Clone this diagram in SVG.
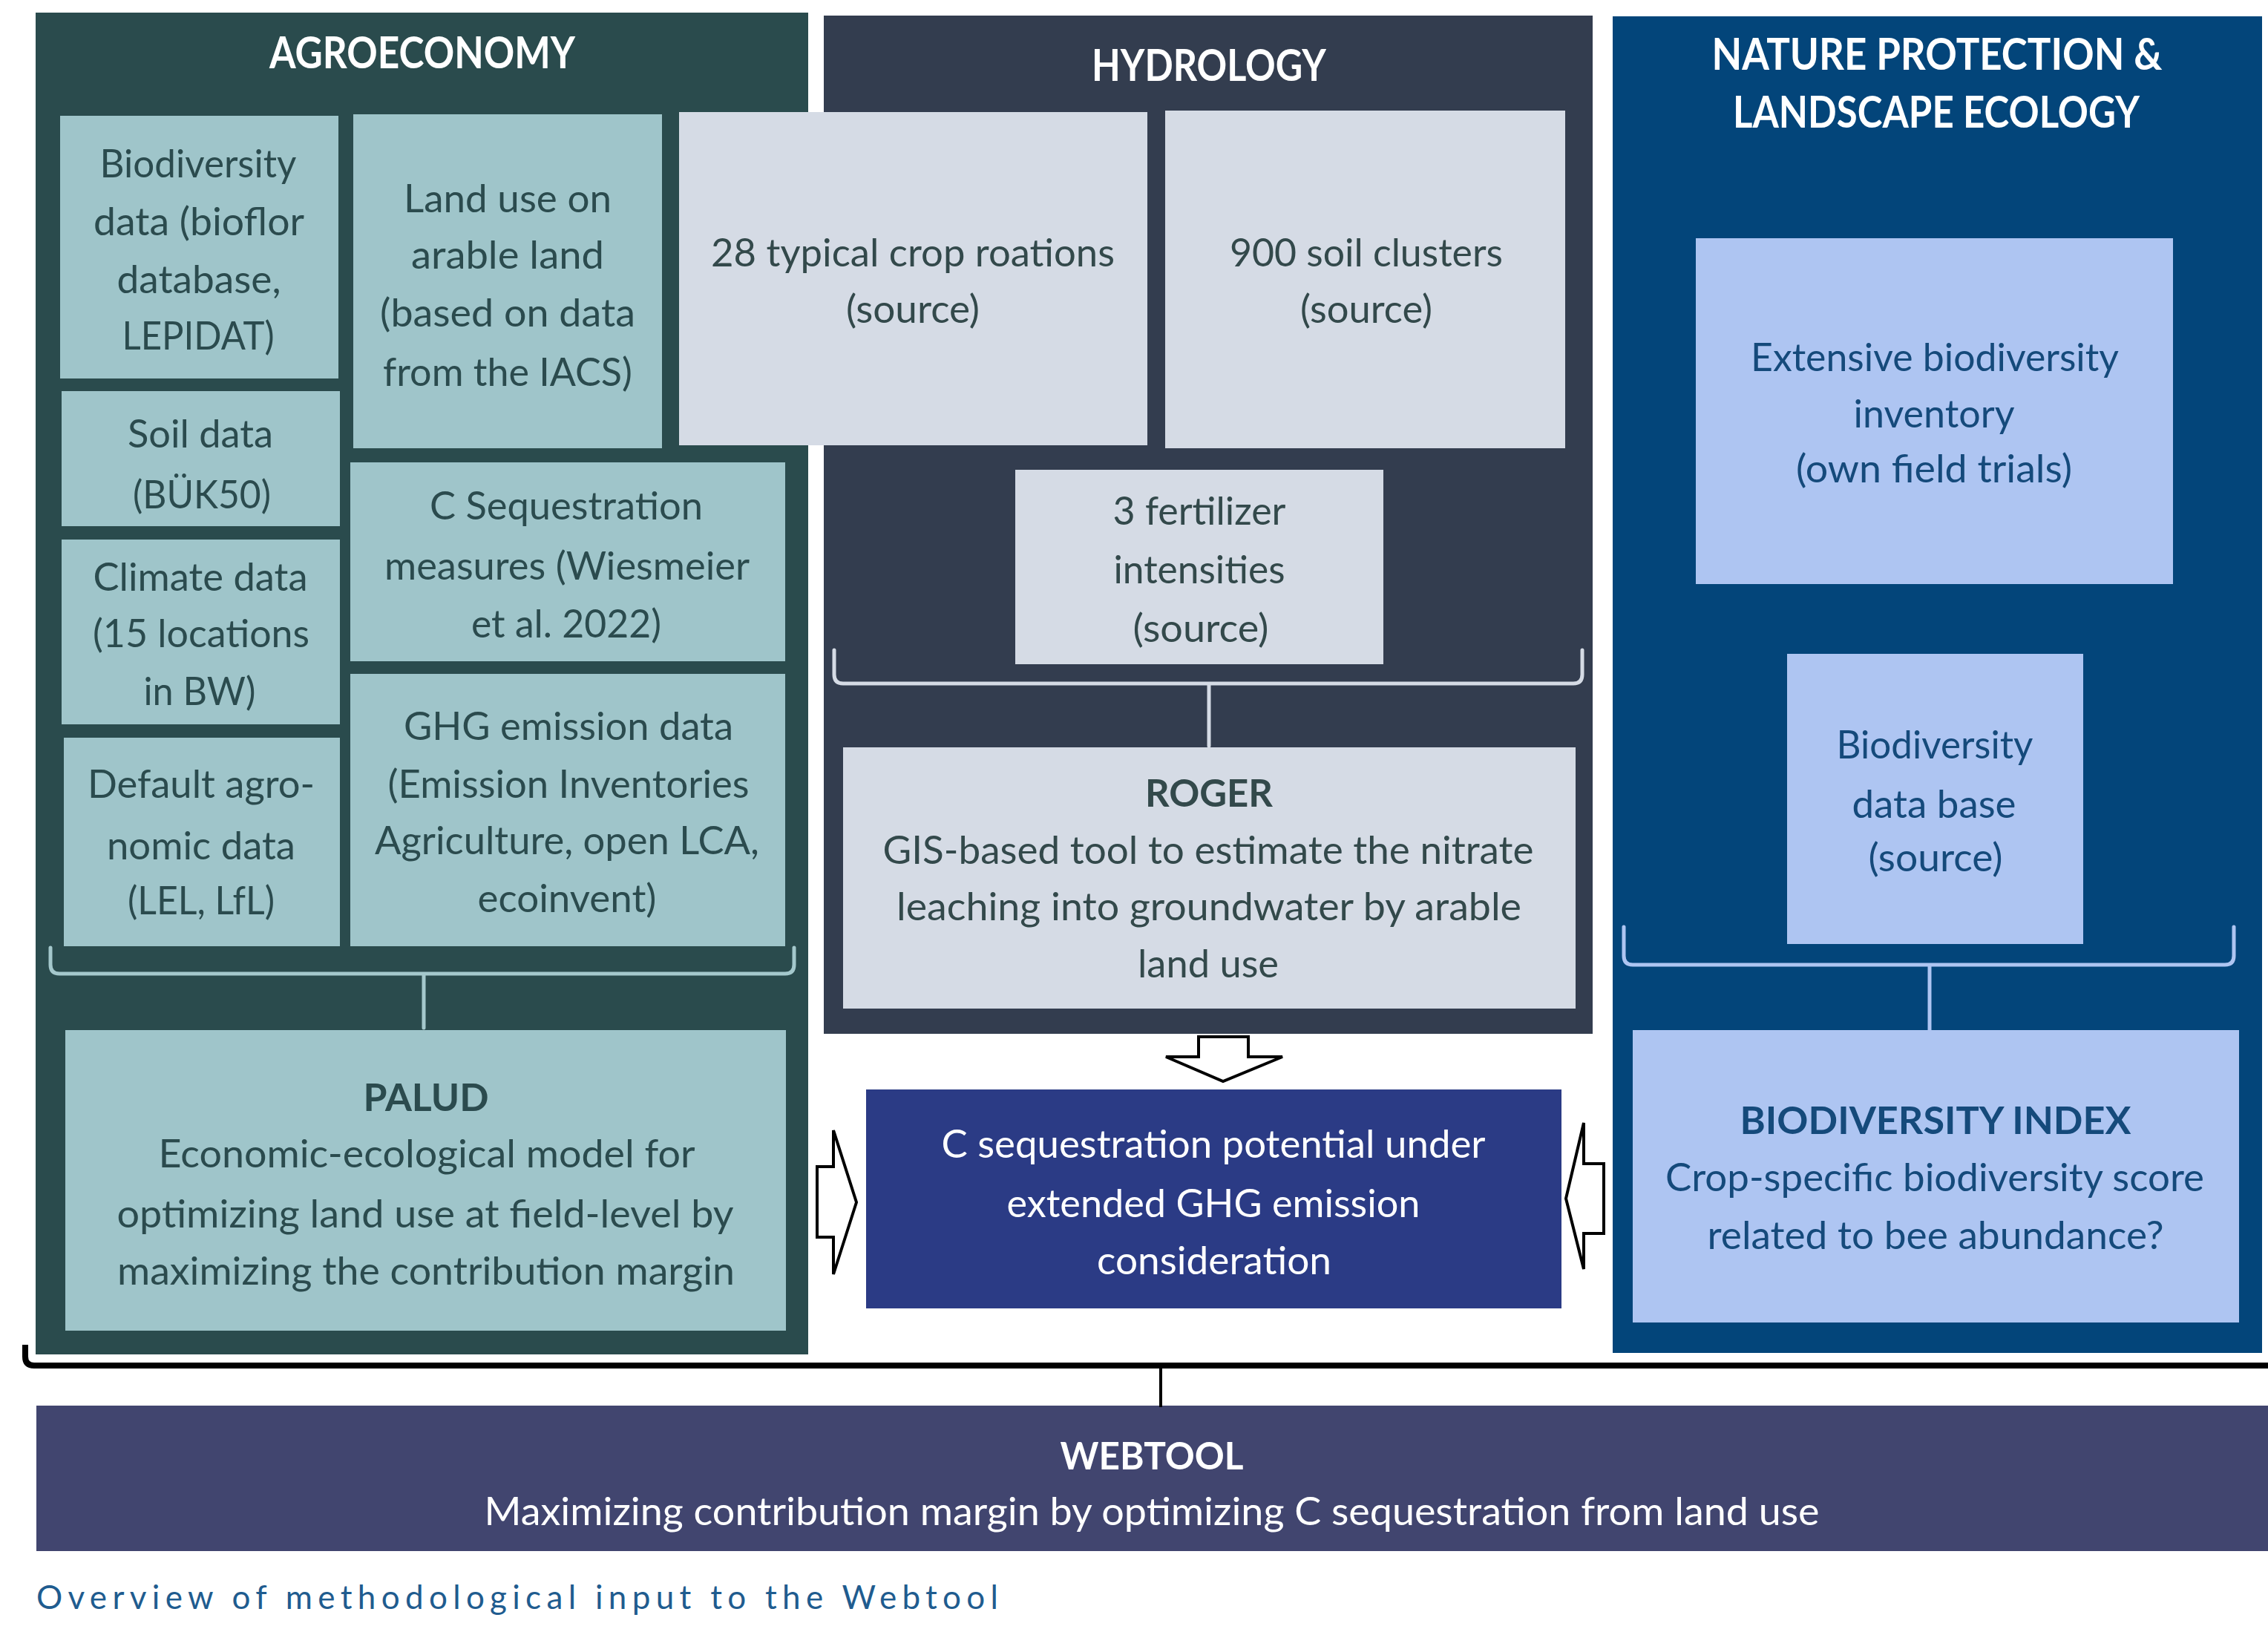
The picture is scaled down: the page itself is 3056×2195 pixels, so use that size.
<svg xmlns="http://www.w3.org/2000/svg" width="3056" height="2195" viewBox="0 0 3056 2195">
  <style>
    text { font-family: Lato, "Open Sans", "Liberation Sans", sans-serif; text-anchor: middle; }
    .body { font-size: 52px; }
    .head { font-size: 60px; font-weight: bold; fill: #ffffff; }
    .bold { font-weight: bold; }
    .agro-box { fill: #9fc5ca; }
    .hyd-box { fill: #d5dbe5; }
    .nat-box { fill: #aec5f2; }
    .agro-txt { fill: #2b4b4e; }
    .hyd-txt { fill: #33494b; }
    .nat-txt { fill: #154a7b; }
    .white { fill: #ffffff; }
    .brace { fill: none; stroke-width: 5; stroke-linecap: round; stroke-linejoin: round; }
    .arrow { fill: #ffffff; stroke: #000000; stroke-width: 4; stroke-linejoin: miter; }
  </style>

  <rect x="0" y="0" width="3056" height="2195" fill="#ffffff"/>

  <!-- Panels -->
  <g id="panel-agroeconomy">
    <rect x="48" y="17" width="1041" height="1808" fill="#2a4b4d"/>
    <text class="head" x="569" y="92" textLength="412" lengthAdjust="spacingAndGlyphs">AGROECONOMY</text>
  </g>
  <g id="panel-hydrology">
    <rect x="1110" y="21" width="1036" height="1372" fill="#333d4f"/>
    <text class="head" x="1629" y="109" textLength="316" lengthAdjust="spacingAndGlyphs">HYDROLOGY</text>
  </g>
  <g id="panel-nature">
    <rect x="2173" y="22" width="875" height="1801" fill="#03457a"/>
    <text class="head" x="2610" y="94" textLength="607" lengthAdjust="spacingAndGlyphs">NATURE PROTECTION &amp;</text>
    <text class="head" x="2609" y="172" textLength="548" lengthAdjust="spacingAndGlyphs">LANDSCAPE ECOLOGY</text>
  </g>

  <!-- Agroeconomy inputs -->
  <g id="biodiversity-data">
    <rect class="agro-box" x="81" y="156" width="375" height="354"/>
    <text class="body agro-txt" x="267" y="239" textLength="265" lengthAdjust="spacingAndGlyphs">Biodiversity</text>
    <text class="body agro-txt" x="268" y="317" textLength="284" lengthAdjust="spacingAndGlyphs">data (bioflor</text>
    <text class="body agro-txt" x="268" y="395" textLength="221" lengthAdjust="spacingAndGlyphs">database,</text>
    <text class="body agro-txt" x="267" y="471" textLength="205" lengthAdjust="spacingAndGlyphs">LEPIDAT)</text>
  </g>
  <g id="land-use">
    <rect class="agro-box" x="476" y="154" width="416" height="450"/>
    <text class="body agro-txt" x="684" y="286" textLength="280" lengthAdjust="spacingAndGlyphs">Land use on</text>
    <text class="body agro-txt" x="684" y="362" textLength="260" lengthAdjust="spacingAndGlyphs">arable land</text>
    <text class="body agro-txt" x="684" y="440" textLength="344" lengthAdjust="spacingAndGlyphs">(based on data</text>
    <text class="body agro-txt" x="684" y="520" textLength="336" lengthAdjust="spacingAndGlyphs">from the IACS)</text>
  </g>
  <g id="soil-data">
    <rect class="agro-box" x="83" y="527" width="375" height="182"/>
    <text class="body agro-txt" x="270" y="603" textLength="196" lengthAdjust="spacingAndGlyphs">Soil data</text>
    <text class="body agro-txt" x="272" y="685" textLength="186" lengthAdjust="spacingAndGlyphs">(BÜK50)</text>
  </g>
  <g id="climate-data">
    <rect class="agro-box" x="83" y="727" width="375" height="249"/>
    <text class="body agro-txt" x="270" y="796" textLength="289" lengthAdjust="spacingAndGlyphs">Climate data</text>
    <text class="body agro-txt" x="271" y="872" textLength="292" lengthAdjust="spacingAndGlyphs">(15 locations</text>
    <text class="body agro-txt" x="269" y="950" textLength="151" lengthAdjust="spacingAndGlyphs">in BW)</text>
  </g>
  <g id="default-agronomic-data">
    <rect class="agro-box" x="86" y="994" width="372" height="281"/>
    <text class="body agro-txt" x="271" y="1075" textLength="306" lengthAdjust="spacingAndGlyphs">Default agro-</text>
    <text class="body agro-txt" x="271" y="1158" textLength="254" lengthAdjust="spacingAndGlyphs">nomic data</text>
    <text class="body agro-txt" x="271" y="1232" textLength="198" lengthAdjust="spacingAndGlyphs">(LEL, LfL)</text>
  </g>
  <g id="c-sequestration-measures">
    <rect class="agro-box" x="472" y="623" width="586" height="268"/>
    <text class="body agro-txt" x="763" y="700" textLength="368" lengthAdjust="spacingAndGlyphs">C Sequestration</text>
    <text class="body agro-txt" x="764" y="781" textLength="492" lengthAdjust="spacingAndGlyphs">measures (Wiesmeier</text>
    <text class="body agro-txt" x="763" y="859" textLength="256" lengthAdjust="spacingAndGlyphs">et al. 2022)</text>
  </g>
  <g id="ghg-emission-data">
    <rect class="agro-box" x="472" y="908" width="586" height="367"/>
    <text class="body agro-txt" x="766" y="997" textLength="444" lengthAdjust="spacingAndGlyphs">GHG emission data</text>
    <text class="body agro-txt" x="766" y="1075" textLength="487" lengthAdjust="spacingAndGlyphs">(Emission Inventories</text>
    <text class="body agro-txt" x="764" y="1151" textLength="518" lengthAdjust="spacingAndGlyphs">Agriculture, open LCA,</text>
    <text class="body agro-txt" x="764" y="1229" textLength="241" lengthAdjust="spacingAndGlyphs">ecoinvent)</text>
  </g>
  <g id="palud">
    <rect class="agro-box" x="88" y="1388" width="971" height="405"/>
    <text class="body bold agro-txt" x="574" y="1497" textLength="169" lengthAdjust="spacingAndGlyphs">PALUD</text>
    <text class="body agro-txt" x="575" y="1573" textLength="723" lengthAdjust="spacingAndGlyphs">Economic-ecological model for</text>
    <text class="body agro-txt" x="573" y="1654" textLength="831" lengthAdjust="spacingAndGlyphs">optimizing land use at field-level by</text>
    <text class="body agro-txt" x="574" y="1731" textLength="832" lengthAdjust="spacingAndGlyphs">maximizing the contribution margin</text>
  </g>

  <!-- Hydrology inputs -->
  <g id="crop-rotations">
    <rect class="hyd-box" x="915" y="151" width="631" height="449"/>
    <text class="body hyd-txt" x="1230" y="359" textLength="544" lengthAdjust="spacingAndGlyphs">28 typical crop roations</text>
    <text class="body hyd-txt" x="1230" y="435" textLength="180" lengthAdjust="spacingAndGlyphs">(source)</text>
  </g>
  <g id="soil-clusters">
    <rect class="hyd-box" x="1570" y="149" width="539" height="455"/>
    <text class="body hyd-txt" x="1841" y="359" textLength="368" lengthAdjust="spacingAndGlyphs">900 soil clusters</text>
    <text class="body hyd-txt" x="1841" y="435" textLength="178" lengthAdjust="spacingAndGlyphs">(source)</text>
  </g>
  <g id="fertilizer-intensities">
    <rect class="hyd-box" x="1368" y="633" width="496" height="262"/>
    <text class="body hyd-txt" x="1616" y="707" textLength="233" lengthAdjust="spacingAndGlyphs">3 fertilizer</text>
    <text class="body hyd-txt" x="1616" y="786" textLength="231" lengthAdjust="spacingAndGlyphs">intensities</text>
    <text class="body hyd-txt" x="1618" y="865" textLength="183" lengthAdjust="spacingAndGlyphs">(source)</text>
  </g>
  <g id="roger">
    <rect class="hyd-box" x="1136" y="1007" width="987" height="352"/>
    <text class="body bold hyd-txt" x="1629" y="1087" textLength="172" lengthAdjust="spacingAndGlyphs">ROGER</text>
    <text class="body hyd-txt" x="1628" y="1164" textLength="877" lengthAdjust="spacingAndGlyphs">GIS-based tool to estimate the nitrate</text>
    <text class="body hyd-txt" x="1629" y="1240" textLength="842" lengthAdjust="spacingAndGlyphs">leaching into groundwater by arable</text>
    <text class="body hyd-txt" x="1628" y="1317" textLength="190" lengthAdjust="spacingAndGlyphs">land use</text>
  </g>

  <!-- Nature protection inputs -->
  <g id="biodiversity-inventory">
    <rect class="nat-box" x="2285" y="321" width="643" height="466"/>
    <text class="body nat-txt" x="2607" y="500" textLength="496" lengthAdjust="spacingAndGlyphs">Extensive biodiversity</text>
    <text class="body nat-txt" x="2606" y="576" textLength="217" lengthAdjust="spacingAndGlyphs">inventory</text>
    <text class="body nat-txt" x="2606" y="650" textLength="372" lengthAdjust="spacingAndGlyphs">(own field trials)</text>
  </g>
  <g id="biodiversity-database">
    <rect class="nat-box" x="2408" y="881" width="399" height="391"/>
    <text class="body nat-txt" x="2607" y="1022" textLength="265" lengthAdjust="spacingAndGlyphs">Biodiversity</text>
    <text class="body nat-txt" x="2606" y="1102" textLength="221" lengthAdjust="spacingAndGlyphs">data base</text>
    <text class="body nat-txt" x="2608" y="1174" textLength="181" lengthAdjust="spacingAndGlyphs">(source)</text>
  </g>
  <g id="biodiversity-index">
    <rect class="nat-box" x="2200" y="1388" width="817" height="394"/>
    <text class="body bold nat-txt" x="2608" y="1528" textLength="527" lengthAdjust="spacingAndGlyphs">BIODIVERSITY INDEX</text>
    <text class="body nat-txt" x="2607" y="1605" textLength="726" lengthAdjust="spacingAndGlyphs">Crop-specific biodiversity score</text>
    <text class="body nat-txt" x="2608" y="1683" textLength="615" lengthAdjust="spacingAndGlyphs">related to bee abundance?</text>
  </g>

  <!-- Central result -->
  <g id="c-sequestration-potential">
    <rect x="1167" y="1468" width="937" height="295" fill="#2b3b85"/>
    <text class="body white" x="1635" y="1560" textLength="733" lengthAdjust="spacingAndGlyphs">C sequestration potential under</text>
    <text class="body white" x="1635" y="1640" textLength="557" lengthAdjust="spacingAndGlyphs">extended GHG emission</text>
    <text class="body white" x="1636" y="1717" textLength="316" lengthAdjust="spacingAndGlyphs">consideration</text>
  </g>

  <!-- Webtool -->
  <g id="webtool">
    <rect x="49" y="1894" width="3007" height="196" fill="#41456f"/>
    <text class="body bold white" x="1552" y="1980" textLength="247" lengthAdjust="spacingAndGlyphs">WEBTOOL</text>
    <text class="body white" x="1552" y="2055" textLength="1799" lengthAdjust="spacingAndGlyphs">Maximizing contribution margin by optimizing C sequestration from land use</text>
  </g>

  <!-- Connectors: braces and block arrows -->
  <g id="connectors">
    <path class="brace" stroke="#a4c8cc" d="M68,1277 L68,1300 Q68,1312 80,1312 L1058,1312 Q1070,1312 1070,1300 L1070,1277 M571,1312 L571,1385"/>
    <path class="brace" stroke="#d5dbe5" d="M1124,876 L1124,909 Q1124,921 1136,921 L2120,921 Q2132,921 2132,909 L2132,876 M1629,921 L1629,1005"/>
    <path class="brace" stroke="#aec5f2" d="M2188,1249 L2188,1288 Q2188,1300 2200,1300 L2998,1300 Q3010,1300 3010,1288 L3010,1249 M2600,1300 L2600,1388"/>
    <path fill="none" stroke="#000000" stroke-width="8" d="M34,1812 L34,1828 Q34,1840 46,1840 L3056,1840"/>
    <path fill="none" stroke="#000000" stroke-width="4" d="M1564,1840 L1564,1896"/>
    <polygon class="arrow" points="1615,1397 1682,1397 1682,1424 1728,1424 1648,1457 1571,1424 1615,1424"/>
    <polygon class="arrow" points="1101,1572 1123,1572 1123,1523 1154,1620 1123,1717 1123,1667 1101,1667"/>
    <polygon class="arrow" points="2161,1568 2134,1568 2134,1513 2110,1615 2134,1710 2134,1662 2161,1662"/>
  </g>

  <text x="49" y="2168" font-size="44" fill="#1f5c8f" style="text-anchor:start" textLength="1296" lengthAdjust="spacing">Overview of methodological input to the Webtool</text>
</svg>
